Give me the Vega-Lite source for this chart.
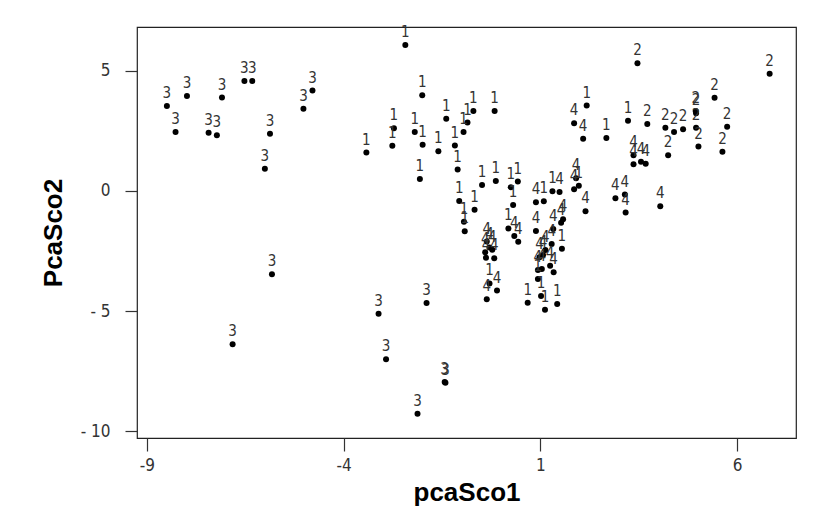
{
  "$schema": "https://vega.github.io/schema/vega-lite/v6.json",
  "width": 659,
  "height": 411,
  "autosize": "none",
  "padding": {"left": 137, "top": 27, "right": 38, "bottom": 79},
  "background": "white",
  "config": {
    "view": {"stroke": "#222", "strokeWidth": 1.2},
    "axis": {"grid": false, "domain": false, "tickColor": "#333", "tickWidth": 1.2,
      "labelFont": "DejaVu Sans Condensed, Liberation Sans, sans-serif", "labelFontSize": 17, "labelColor": "#333",
      "titleFont": "Liberation Sans, Arial, sans-serif", "titleFontSize": 26, "titleFontWeight": "bold", "titleColor": "#000"}
  },
  "data": {"values": [
    {"x": -8.49, "y": 3.54, "c": "3"}, {"x": -8.27, "y": 2.46, "c": "3"}, {"x": -7.98, "y": 3.96, "c": "3"},
    {"x": -7.43, "y": 2.42, "c": "3"}, {"x": -7.22, "y": 2.32, "c": "3"}, {"x": -7.09, "y": 3.89, "c": "3"},
    {"x": -6.52, "y": 4.58, "c": "3"}, {"x": -6.32, "y": 4.58, "c": "3"}, {"x": -5.87, "y": 2.38, "c": "3"},
    {"x": -6.0, "y": 0.93, "c": "3"}, {"x": -5.02, "y": 3.42, "c": "3"}, {"x": -4.79, "y": 4.18, "c": "3"},
    {"x": -5.82, "y": -3.47, "c": "3"}, {"x": -6.82, "y": -6.38, "c": "3"}, {"x": -3.11, "y": -5.11, "c": "3"},
    {"x": -1.89, "y": -4.67, "c": "3"}, {"x": -2.92, "y": -7.01, "c": "3"}, {"x": -1.43, "y": -7.96, "c": "3"},
    {"x": -1.41, "y": -7.99, "c": "3"}, {"x": -2.12, "y": -9.28, "c": "3"},
    {"x": 3.47, "y": 5.32, "c": "2"}, {"x": 6.83, "y": 4.88, "c": "2"}, {"x": 5.43, "y": 3.88, "c": "2"},
    {"x": 4.96, "y": 3.24, "c": "2"}, {"x": 4.95, "y": 3.33, "c": "2"}, {"x": 4.96, "y": 2.63, "c": "2"},
    {"x": 5.75, "y": 2.68, "c": "2"}, {"x": 5.63, "y": 1.63, "c": "2"}, {"x": 3.72, "y": 2.79, "c": "2"},
    {"x": 4.18, "y": 2.63, "c": "2"}, {"x": 4.40, "y": 2.46, "c": "2"}, {"x": 4.63, "y": 2.57, "c": "2"},
    {"x": 4.25, "y": 1.49, "c": "2"}, {"x": 5.02, "y": 1.85, "c": "2"},
    {"x": -3.42, "y": 1.6, "c": "1"}, {"x": -2.43, "y": 6.08, "c": "1"}, {"x": -2.0, "y": 3.99, "c": "1"},
    {"x": -2.72, "y": 2.61, "c": "1"}, {"x": -2.76, "y": 1.88, "c": "1"}, {"x": -2.19, "y": 2.46, "c": "1"},
    {"x": -1.99, "y": 1.93, "c": "1"}, {"x": -1.59, "y": 1.65, "c": "1"}, {"x": -1.39, "y": 3.01, "c": "1"},
    {"x": -1.17, "y": 1.89, "c": "1"}, {"x": -0.95, "y": 2.46, "c": "1"}, {"x": -0.85, "y": 2.85, "c": "1"},
    {"x": -0.70, "y": 3.33, "c": "1"}, {"x": -0.16, "y": 3.33, "c": "1"}, {"x": -2.06, "y": 0.5, "c": "1"},
    {"x": -1.10, "y": 0.89, "c": "1"}, {"x": -0.48, "y": 0.25, "c": "1"}, {"x": -0.13, "y": 0.42, "c": "1"},
    {"x": 0.25, "y": 0.16, "c": "1"}, {"x": 0.43, "y": 0.39, "c": "1"}, {"x": 1.09, "y": -0.43, "c": "1"},
    {"x": 1.31, "y": -0.01, "c": "1"}, {"x": 2.18, "y": 3.56, "c": "1"}, {"x": 2.68, "y": 2.21, "c": "1"},
    {"x": 3.23, "y": 2.93, "c": "1"}, {"x": -1.06, "y": -0.42, "c": "1"}, {"x": -0.67, "y": -0.78, "c": "1"},
    {"x": 0.31, "y": -0.58, "c": "1"}, {"x": -0.94, "y": -1.28, "c": "1"}, {"x": -0.92, "y": -1.68, "c": "1"},
    {"x": 0.19, "y": -1.56, "c": "1"}, {"x": -0.29, "y": -3.85, "c": "1"}, {"x": 0.68, "y": -4.66, "c": "1"},
    {"x": 1.02, "y": -4.38, "c": "1"}, {"x": 1.12, "y": -4.95, "c": "1"}, {"x": 1.43, "y": -4.71, "c": "1"},
    {"x": 1.55, "y": -2.41, "c": "1"}, {"x": 0.94, "y": -3.67, "c": "1"}, {"x": 1.98, "y": 0.22, "c": "1"},
    {"x": 1.86, "y": 2.82, "c": "4"}, {"x": 2.09, "y": 2.18, "c": "4"}, {"x": 0.89, "y": -0.47, "c": "4"},
    {"x": 1.49, "y": -0.04, "c": "4"}, {"x": 1.86, "y": 0.07, "c": "4"}, {"x": 1.91, "y": 0.53, "c": "4"},
    {"x": 2.15, "y": -0.85, "c": "4"}, {"x": 2.91, "y": -0.30, "c": "4"}, {"x": 3.15, "y": -0.15, "c": "4"},
    {"x": 3.17, "y": -0.90, "c": "4"}, {"x": 4.05, "y": -0.64, "c": "4"}, {"x": 3.37, "y": 1.49, "c": "4"},
    {"x": 3.37, "y": 1.11, "c": "4"}, {"x": 3.56, "y": 1.22, "c": "4"}, {"x": 3.68, "y": 1.13, "c": "4"},
    {"x": 0.89, "y": -1.67, "c": "4"}, {"x": 0.34, "y": -1.88, "c": "4"}, {"x": 0.44, "y": -2.12, "c": "4"},
    {"x": -0.36, "y": -2.11, "c": "4"}, {"x": -0.29, "y": -2.35, "c": "4"}, {"x": -0.40, "y": -2.55, "c": "4"},
    {"x": -0.22, "y": -2.45, "c": "4"}, {"x": -0.38, "y": -2.78, "c": "4"}, {"x": -0.17, "y": -2.80, "c": "4"},
    {"x": -0.10, "y": -4.15, "c": "4"}, {"x": -0.36, "y": -4.51, "c": "4"}, {"x": 1.33, "y": -1.58, "c": "4"},
    {"x": 1.53, "y": -1.32, "c": "4"}, {"x": 1.58, "y": -1.18, "c": "4"}, {"x": 1.29, "y": -2.21, "c": "4"},
    {"x": 1.13, "y": -2.46, "c": "4"}, {"x": 1.07, "y": -2.67, "c": "4"}, {"x": 0.98, "y": -2.76, "c": "4"},
    {"x": 0.94, "y": -3.29, "c": "4"}, {"x": 1.04, "y": -3.25, "c": "4"}, {"x": 1.25, "y": -3.12, "c": "4"},
    {"x": 1.34, "y": -3.39, "c": "4"}
  ]},
  "encoding": {
    "x": {"field": "x", "type": "quantitative",
      "scale": {"domain": [-9.25, 7.5], "nice": false, "zero": false},
      "axis": {"title": "pcaSco1", "values": [-9, -4, 1, 6], "tickSize": 13, "labelPadding": 6, "titlePadding": 6,
        "labelExpr": "datum.value < 0 ? '-' + (-datum.value) : '' + datum.value"}},
    "y": {"field": "y", "type": "quantitative",
      "scale": {"domain": [-10.29, 6.83], "nice": false, "zero": false},
      "axis": {"title": "PcaSco2", "values": [-10, -5, 0, 5], "tickSize": 12, "labelPadding": 15, "titlePadding": 14,
        "labelExpr": "datum.value < 0 ? '- ' + (-datum.value) : '' + datum.value"}}
  },
  "layer": [
    {"mark": {"type": "point", "filled": true, "shape": "circle", "size": 36, "fill": "#000", "stroke": null, "opacity": 1}},
    {"mark": {"type": "text", "baseline": "bottom", "dy": -5, "font": "DejaVu Sans Condensed, Liberation Sans, sans-serif", "fontSize": 15, "fill": "#333"},
     "encoding": {"text": {"field": "c"}}}
  ]
}
